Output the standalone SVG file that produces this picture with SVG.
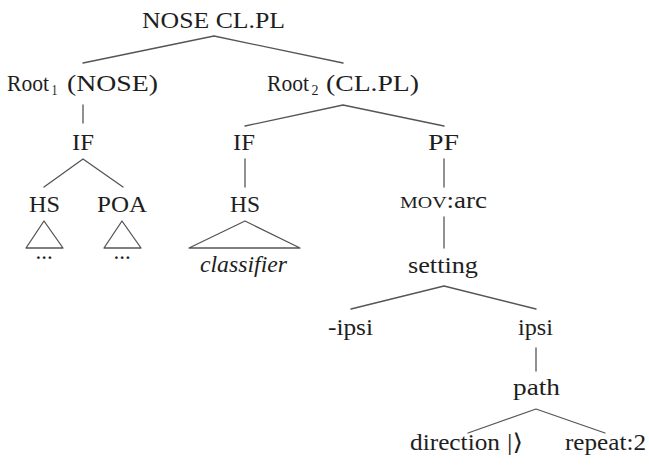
<svg xmlns="http://www.w3.org/2000/svg" width="649" height="465" viewBox="0 0 649 465" font-family="'Liberation Serif', 'DejaVu Serif', serif">
  <style>
    text { font-family: "Liberation Serif", "DejaVu Serif", serif; font-size: 23px; fill: #1e1e1e; }
    .sub { font-size: 15px; }
    .sc { font-size: 17px; }
    .it { font-style: italic; }
    .edge { stroke: #555; stroke-width: 1.3; fill: none; stroke-linecap: round; stroke-linejoin: round; }
  </style>
  <rect width="649" height="465" fill="#fff"/>

  <!-- tree branches -->
  <g id="connectors" class="edge">
    <polyline points="83,63 214,36 343,63"/>
    <line x1="83" y1="105" x2="83" y2="123"/>
    <polyline points="245,126 343,105 444,126"/>
    <polyline points="44,187 83,159 123,187"/>
    <line x1="245" y1="159" x2="245" y2="187"/>
    <line x1="444" y1="159" x2="444" y2="187"/>
    <polygon points="44,221 26,248 63,248"/>
    <polygon points="122,221 104,248 141,248"/>
    <polygon points="245,221 189,248 300,248"/>
    <line x1="444" y1="217" x2="444" y2="248"/>
    <polyline points="351,309 444,286 536,309"/>
    <line x1="536" y1="348" x2="536" y2="371"/>
    <polyline points="468,433 536,409 605,433"/>
  </g>

  <g id="root">
    <text x="142" y="28" textLength="143" lengthAdjust="spacingAndGlyphs">NOSE CL.PL</text>
  </g>

  <g id="root1">
    <text x="7" y="91" textLength="42" lengthAdjust="spacingAndGlyphs">Root</text>
    <text class="sub" x="51.5" y="95" textLength="6" lengthAdjust="spacingAndGlyphs">1</text>
    <text x="67" y="91" textLength="91" lengthAdjust="spacingAndGlyphs">(NOSE)</text>
  </g>

  <g id="root2">
    <text x="267" y="91" textLength="42" lengthAdjust="spacingAndGlyphs">Root</text>
    <text class="sub" x="311.5" y="95" textLength="7" lengthAdjust="spacingAndGlyphs">2</text>
    <text x="326" y="91" textLength="93" lengthAdjust="spacingAndGlyphs">(CL.PL)</text>
  </g>

  <g id="if1">
    <text x="72" y="150" textLength="22" lengthAdjust="spacingAndGlyphs">IF</text>
  </g>
  <g id="if2">
    <text x="233" y="150" textLength="22" lengthAdjust="spacingAndGlyphs">IF</text>
  </g>
  <g id="pf">
    <text x="428" y="150" textLength="31" lengthAdjust="spacingAndGlyphs">PF</text>
  </g>

  <g id="hs1">
    <text x="29" y="212" textLength="31" lengthAdjust="spacingAndGlyphs">HS</text>
    <text x="44" y="259" text-anchor="middle">...</text>
  </g>
  <g id="poa">
    <text x="97" y="212" textLength="50" lengthAdjust="spacingAndGlyphs">POA</text>
    <text x="122" y="259" text-anchor="middle">...</text>
  </g>
  <g id="hs2">
    <text x="230" y="212" textLength="30" lengthAdjust="spacingAndGlyphs">HS</text>
    <text class="it" x="200" y="272" textLength="87" lengthAdjust="spacingAndGlyphs">classifier</text>
  </g>

  <g id="mov">
    <text x="400" y="208" textLength="87" lengthAdjust="spacingAndGlyphs"><tspan class="sc">MOV</tspan>:arc</text>
  </g>

  <g id="setting">
    <text x="408" y="273" textLength="70" lengthAdjust="spacingAndGlyphs">setting</text>
  </g>

  <g id="neg-ipsi">
    <text x="328" y="335" textLength="45" lengthAdjust="spacingAndGlyphs">-ipsi</text>
  </g>
  <g id="ipsi">
    <text x="518" y="335" textLength="35" lengthAdjust="spacingAndGlyphs">ipsi</text>
  </g>

  <g id="path">
    <text x="513" y="395" textLength="47" lengthAdjust="spacingAndGlyphs">path</text>
  </g>

  <g id="direction">
    <text x="410" y="450" textLength="90" lengthAdjust="spacingAndGlyphs">direction</text>
    <text x="507" y="450" textLength="16" lengthAdjust="spacingAndGlyphs">|⟩</text>
  </g>
  <g id="repeat">
    <text x="565" y="450" textLength="81" lengthAdjust="spacingAndGlyphs">repeat:2</text>
  </g>
</svg>
